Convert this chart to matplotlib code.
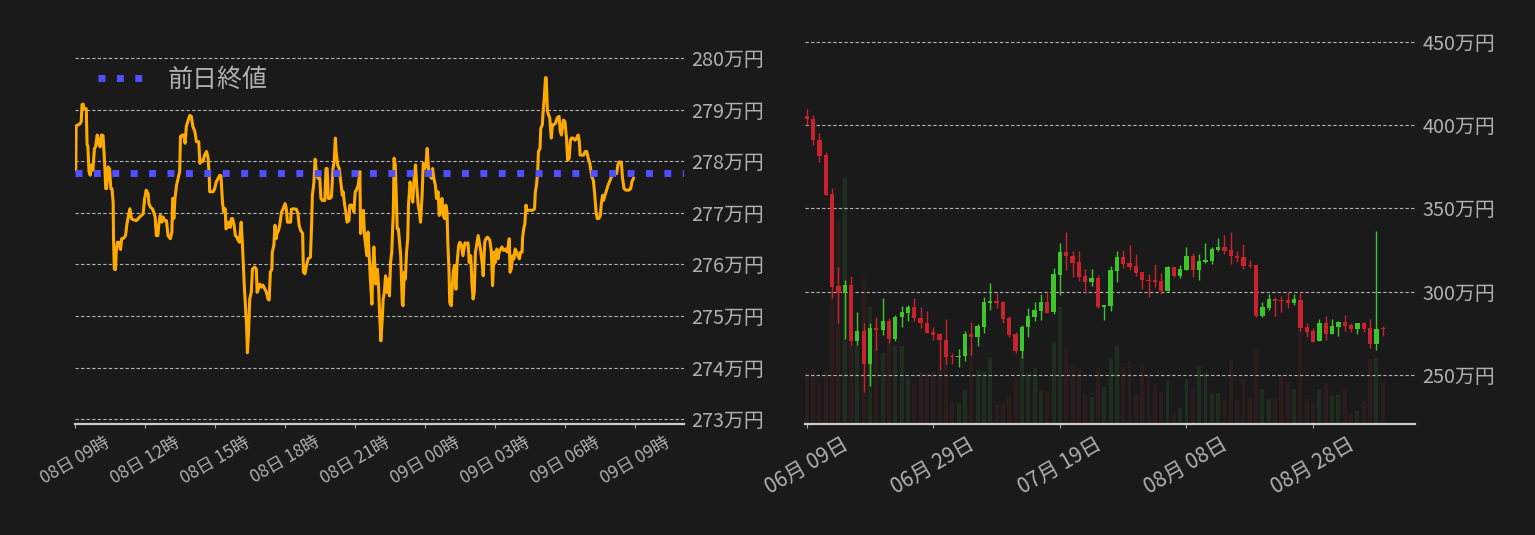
import matplotlib
matplotlib.use("Agg")
import matplotlib.pyplot as plt
import matplotlib.dates as mdates
from datetime import datetime, timedelta

plt.rcParams['font.family'] = ['Noto Sans CJK JP', 'DejaVu Sans']

# ---------------- data: intraday (left) ----------------
intraday_start = datetime(2022, 9, 8, 9, 0)
prev_close = 277.78  # 万円
minutes = [2,3,12,16,18,21,23,29,31,33,
           36,39,43,46,50,53,57,59,62,65,
           68,72,75,77,79,81,85,89,92,95,
           98,99,101,104,106,109,113,117,120,125,
           130,133,136,141,145,149,158,166,175,179,
           183,188,190,194,199,202,206,209,213,216,
           219,223,226,231,235,239,245,249,251,254,
           257,261,265,269,271,276,279,283,286,291,
           295,299,303,308,312,318,321,325,329,333,
           338,342,345,346,355,359,363,368,372,375,
           379,382,386,388,392,395,399,402,405,409,
           412,416,419,423,427,430,433,435,438,441,
           443,446,449,453,456,462,466,468,471,475,
           479,483,488,492,496,499,502,506,507,511,
           514,517,519,523,526,531,535,540,543,546,
           549,554,556,561,569,573,576,580,585,587,
           591,595,599,605,608,610,614,617,621,625,
           629,632,636,642,645,648,651,655,659,663,
           666,669,671,675,679,682,687,689,693,696,
           699,704,706,711,717,720,723,728,732,734,
           736,739,741,744,747,750,753,756,759,763,
           765,768,771,773,777,780,783,786,789,792,
           795,798,802,806,808,811,814,818,820,823,
           825,828,831,
           837,841,843,846,849,852,855,857,861,864,
           868,871,875,878,882,885,888,892,895,899,
           902,905,909,912,916,919,922,926,929,933,
           936,939,943,946,950,953,956,958,961,963,
           967,969,972,975,979,982,986,989,993,997,
           1002,1006,1010,1013,1017,1020,1023,1026,1029,1032,
           1036,1039,1042,1047,1049,1053,1056,1060,1063,1066,
           1070,1073,1077,1080,1084,1087,1090,1094,1097,1102,
           1107,1111,1116,1118,1121,1125,1128,1131,1135,1138,
           1142,1145,1149,1150,1153,1156,1159,1161,1169,1176,
           1181,1183,1186,1189,1191,1195,1197,1201,1203,1206,
           1209,1211,1214,1217,1220,1224,1227,1231,1235,1239,
           1244,1247,1250,1255,1259,1263,1266,1270,1273,1276,
           1280,1285,1289,1293,1296,1298,1304,1307,1311,1315,
           1319,1323,1328,1332,1335,1339,1342,1346,1350,1353,
           1356,1358,1362,1366,1370,1375,1380,1383,1387,1392,
           1395,1399,1404,1407,1411,1416,1423,1428,1431,1435]
prices = [277.83,278.69,278.72,278.77,279.10,279.11,279.02,279.02,278.32,278.30,
          277.80,277.73,277.93,277.83,278.25,278.28,278.51,278.45,278.32,278.28,
          278.51,278.50,278.12,277.83,277.47,277.47,277.89,277.85,277.47,277.47,
          277.21,276.50,275.91,275.90,276.24,276.43,276.43,276.29,276.50,276.51,
          276.56,276.76,276.89,277.08,276.89,276.87,276.85,276.92,276.98,277.28,
          277.44,277.37,277.18,277.11,277.08,277.02,276.92,276.56,276.56,276.82,
          276.95,276.82,276.92,276.85,276.85,276.56,276.50,276.63,277.28,276.89,
          277.29,277.54,277.67,277.80,278.48,278.51,278.51,278.35,278.67,278.80,
          278.89,278.87,278.67,278.58,278.38,278.38,277.96,278.02,278.00,278.12,
          278.19,278.06,277.73,277.41,277.41,277.47,277.60,277.67,277.73,277.72,
          277.21,277.02,277.08,276.69,276.72,276.82,276.72,276.89,276.89,276.76,
          276.56,276.53,276.47,276.43,276.82,276.43,275.91,275.59,275.20,274.81,
          274.29,274.68,275.33,275.46,275.91,275.95,275.91,275.46,275.52,275.62,
          275.56,275.60,275.52,275.46,275.33,275.31,275.85,275.91,276.24,276.37,
          276.76,276.50,276.60,276.66,276.76,277.02,277.08,277.18,277.08,276.82,
          276.82,276.82,277.07,277.08,277.07,276.98,276.76,276.66,276.60,275.85,
          275.82,275.98,276.11,276.14,276.76,277.34,277.60,278.04,277.73,277.67,
          277.67,277.28,277.24,277.24,277.86,277.86,277.28,277.28,277.31,277.86,
          277.99,278.45,278.19,277.93,277.86,277.67,277.34,277.41,277.15,277.02,
          276.82,276.85,277.15,277.15,277.02,277.41,277.44,277.54,277.80,276.60,
          276.76,277.02,277.05,276.56,276.37,276.17,276.63,276.17,275.72,275.23,
          275.85,276.34,275.91,275.62,275.91,275.59,275.00,274.52,274.87,275.33,
          275.46,275.78,275.46,275.72,275.39,276.04,276.24,277.02,278.06,277.93,
          277.47,276.69,276.69,
          276.17,275.26,275.20,275.85,275.72,276.24,276.50,277.15,277.60,277.41,
          277.21,277.60,277.93,277.54,277.15,277.02,276.82,277.34,277.96,277.86,
          277.93,278.25,277.80,277.73,277.67,277.86,277.67,277.54,277.28,277.41,
          276.95,277.02,277.28,276.95,276.89,277.15,277.02,276.43,275.91,275.26,
          275.20,275.52,275.85,275.98,275.52,276.04,276.37,276.43,276.37,276.17,
          276.42,276.40,276.42,276.04,276.17,275.65,275.33,275.46,276.24,276.37,
          276.56,276.43,276.30,275.98,275.78,276.43,276.50,276.53,276.50,276.47,
          276.24,275.59,276.24,276.04,276.30,276.11,276.24,276.30,276.34,276.27,
          276.30,276.24,276.50,275.85,275.91,276.17,276.11,276.30,276.24,276.17,
          276.11,276.24,276.24,276.50,276.69,276.79,277.15,277.05,277.05,277.05,
          277.08,277.41,277.54,277.80,278.19,278.25,278.64,278.71,278.97,279.23,
          279.62,279.62,278.97,278.90,278.84,278.45,278.71,278.71,278.74,278.84,
          278.87,278.58,278.51,278.80,278.77,278.45,278.02,278.06,278.41,278.45,
          278.45,278.41,278.45,278.51,278.38,278.12,278.12,278.12,278.19,278.19,
          278.06,277.96,277.70,277.63,277.41,277.02,276.89,276.89,276.95,277.21,
          277.34,277.24,277.34,277.44,277.54,277.63,277.73,277.73,277.80,277.76,
          277.93,277.99,277.98,277.67,277.47,277.44,277.44,277.47,277.60,277.67]
left_yticks = [273, 274, 275, 276, 277, 278, 279, 280]
legend_label = '前日終値'

# ---------------- data: daily candles (right) ----------------
daily_start = datetime(2022, 6, 9)
opens = [405.4,403.8,391.2,382.1,358.6,303.2,299.2,303.8,270.3,276.7,
         256.4,278.5,277.3,282.7,271.5,284.7,287.1,290.6,284.5,281.5,
         276.1,274.9,271.3,261.2,260.6,261.2,274.9,273.1,279.1,293.2,
         294.2,293.6,284.5,274.9,264.3,278.7,285.1,288.2,293.6,287.6,
         310.0,323.7,321.3,317.7,309.2,305.6,308.0,290.6,291.2,312.2,
         320.7,317.1,315.3,311.6,307.0,306.8,306.2,300.2,314.7,309.2,
         312.9,321.3,312.9,317.7,318.3,324.9,326.7,324.9,321.3,320.7,
         315.9,315.9,285.7,290.0,295.4,294.8,294.8,293.0,294.8,279.1,
         276.7,270.7,281.5,274.9,279.1,282.1,280.3,277.9,281.5,278.5,
         268.9,277.9]
highs = [409.8,406.2,395.4,383.7,362.2,314.7,306.8,309.2,287.6,281.1,
         281.5,284.5,296.0,284.5,286.3,291.2,292.0,296.0,290.6,288.2,
         279.1,275.5,283.9,263.5,265.9,276.7,282.1,280.9,296.6,305.0,
         299.0,294.2,285.7,276.1,280.3,290.0,293.6,298.4,300.2,314.1,
         329.1,335.7,324.3,324.3,313.5,313.5,309.8,291.8,315.3,324.3,
         324.9,327.9,322.5,311.6,310.4,316.5,311.0,315.3,314.7,315.9,
         326.7,323.1,322.5,329.1,326.7,332.1,333.9,335.7,324.3,328.5,
         318.9,315.9,293.6,298.4,296.6,297.2,299.6,298.4,299.0,281.5,
         278.5,283.9,285.7,283.9,282.7,286.3,281.5,281.5,282.1,283.9,
         336.3,279.7]
lows = [399.8,387.8,378.1,358.2,296.0,281.1,271.5,268.3,268.3,240.0,
        243.2,264.9,274.3,269.1,270.3,278.7,282.7,282.7,278.1,275.1,
        270.9,253.2,256.8,256.8,254.6,258.2,262.2,267.3,275.1,288.8,
        290.0,281.1,273.1,263.5,260.0,272.7,282.7,283.3,287.1,286.9,
        298.0,312.9,308.6,306.2,299.0,303.2,290.0,283.3,288.2,305.6,
        314.1,312.9,309.2,301.4,296.6,302.6,298.4,300.2,308.6,308.0,
        312.9,308.6,306.8,317.1,316.5,324.3,322.5,316.5,317.7,313.5,
        314.1,285.1,285.1,288.8,285.7,287.6,290.0,291.8,276.7,273.1,
        270.1,270.7,271.3,274.9,273.7,276.7,276.1,274.9,276.1,266.5,
        265.3,273.7]
closes = [403.4,390.8,381.7,358.2,302.8,299.2,303.8,270.3,276.7,256.4,
          278.5,277.3,282.7,271.5,285.1,287.6,290.6,284.1,281.1,275.5,
          274.3,270.9,260.6,260.6,261.6,274.9,273.1,279.7,293.6,294.2,
          293.2,283.9,274.3,264.3,279.1,285.7,288.8,293.6,287.1,310.4,
          323.7,321.3,317.1,308.6,305.6,308.0,290.6,291.8,312.9,320.7,
          316.5,314.7,311.0,306.8,306.4,305.6,300.2,314.7,309.2,313.5,
          321.3,312.9,318.3,318.9,325.5,326.7,324.3,321.3,320.1,315.3,
          315.3,285.7,290.6,295.4,294.2,294.4,293.0,295.4,278.5,276.1,
          270.1,281.5,274.9,279.7,282.1,279.7,277.9,281.5,277.9,268.9,
          277.9,277.5]
volumes = [51.7,54.3,40.3,52.3,130.0,203.3,244.3,78.3,78.3,145.7,
           116.3,106.7,70.3,83.3,77.3,77.3,46.7,39.3,51.3,50.3,
           51.3,56.3,66.7,21.3,21.3,34.3,76.7,53.3,52.3,66.3,
           19.3,20.3,29.3,46.7,66.7,50.3,55.3,33.3,33.3,81.3,
           116.3,75.7,57.3,53.3,30.3,27.3,55.3,37.3,65.3,77.3,
           56.3,62.3,30.3,58.3,47.3,39.3,32.3,43.3,12.3,16.3,
           44.3,34.3,57.3,50.3,30.3,31.3,24.3,63.3,24.3,44.3,
           26.3,72.3,35.3,25.3,26.3,47.3,41.3,35.3,93.3,25.3,
           21.3,35.3,39.3,28.3,29.3,35.3,10.3,13.3,23.3,64.3,
           65.3,41.3]
right_yticks = [250, 300, 350, 400, 450]

# ---------------- style ----------------
BG = '#1a1a1a'
TXT = '#b0b0b0'
GRID = '#b4b4b4'
UP, DOWN = '#3dc52b', '#c8232d'
UP_V, DOWN_V = '#1e2d1e', '#2d1c1c'

W, H = 1535, 535
fig = plt.figure(figsize=(W / 100, H / 100), dpi=100, facecolor=BG)

def frac(x0, x1, ytop, ybot):
    return [x0 / W, (H - ybot) / H, (x1 - x0) / W, (ybot - ytop) / H]

def style_axes(ax):
    ax.set_facecolor(BG)
    for s in ('top', 'left', 'right'):
        ax.spines[s].set_visible(False)
    ax.spines['bottom'].set_color('#cccccc')
    ax.spines['bottom'].set_linewidth(1.6)
    ax.yaxis.tick_right()
    ax.tick_params(axis='y', length=0, pad=5.5, labelsize=14.3, labelcolor=TXT)
    ax.tick_params(axis='x', length=3, width=0.8, color='#aaaaaa', labelcolor=TXT)
    ax.grid(axis='y', color=GRID, linewidth=0.8, linestyle=(0, (3, 2)))
    ax.grid(axis='x', visible=False)
    ax.set_axisbelow(True)

# ---------------- left: intraday line ----------------
ax1 = fig.add_axes(frac(75, 684, 38, 424))
style_axes(ax1)
t = [intraday_start + timedelta(minutes=m) for m in minutes]
ax1.plot(t, prices, color='#ffaa00', linewidth=2.2, zorder=2)
ax1.axhline(prev_close, color='#5050ff', linewidth=5, linestyle=':',
            label=legend_label, zorder=3)
ax1.set_xlim(intraday_start, intraday_start + timedelta(minutes=1565))
ax1.set_ylim(272.908, 280.39)
ax1.set_yticks(left_yticks)
ax1.set_yticklabels([f'{v}万円' for v in left_yticks])
ax1.set_xticks([intraday_start + timedelta(hours=3 * i) for i in range(9)])
ax1.xaxis.set_major_formatter(mdates.DateFormatter('%d日 %H時'))
ax1.tick_params(axis='x', labelsize=12.5, labelrotation=30)
leg = ax1.legend(loc='upper left', frameon=False, fontsize=18, labelcolor=TXT,
                 bbox_to_anchor=(0.0, 1.0 - 6 / 386))

# ---------------- right: candles + volume ----------------
pos2 = frac(805, 1415, 38, 424)
axv = fig.add_axes(pos2)
axv.set_facecolor(BG)
for s in axv.spines.values():
    s.set_visible(False)
ax2 = fig.add_axes(pos2, sharex=axv)
style_axes(ax2)
ax2.patch.set_visible(False)

dates = [daily_start + timedelta(days=i) for i in range(len(opens))]
dn = mdates.date2num(dates)
up = [c >= o for o, c in zip(opens, closes)]
axv.bar(dn, volumes, width=0.62, color=[UP_V if u else DOWN_V for u in up],
        linewidth=0)
axv.set_ylim(0, max(volumes) * 1.572)

cols = [UP if u else DOWN for u in up]
ax2.vlines(dn, lows, highs, colors=cols, linewidth=1.0, zorder=2)
bottoms = [min(o, c) for o, c in zip(opens, closes)]
heights = [max(abs(c - o), 0.9) for o, c in zip(opens, closes)]
ax2.bar(dn, heights, bottom=bottoms, width=0.68, color=cols, linewidth=0, zorder=3)

ax2.set_xlim(dn[0] - 0.27, dn[0] + 96.1)
ax2.set_ylim(220.66, 452.3)
ax2.set_yticks(right_yticks)
ax2.set_yticklabels([f'{v}万円' for v in right_yticks])
ax2.set_xticks(dn[::20])
ax2.xaxis.set_major_formatter(mdates.DateFormatter('%m月 %d日'))
ax2.tick_params(axis='x', labelsize=15, labelrotation=30)
axv.tick_params(axis='both', which='both', bottom=False, left=False,
                labelbottom=False, labelleft=False)

fig.savefig('out.png', dpi=100, facecolor=BG)
